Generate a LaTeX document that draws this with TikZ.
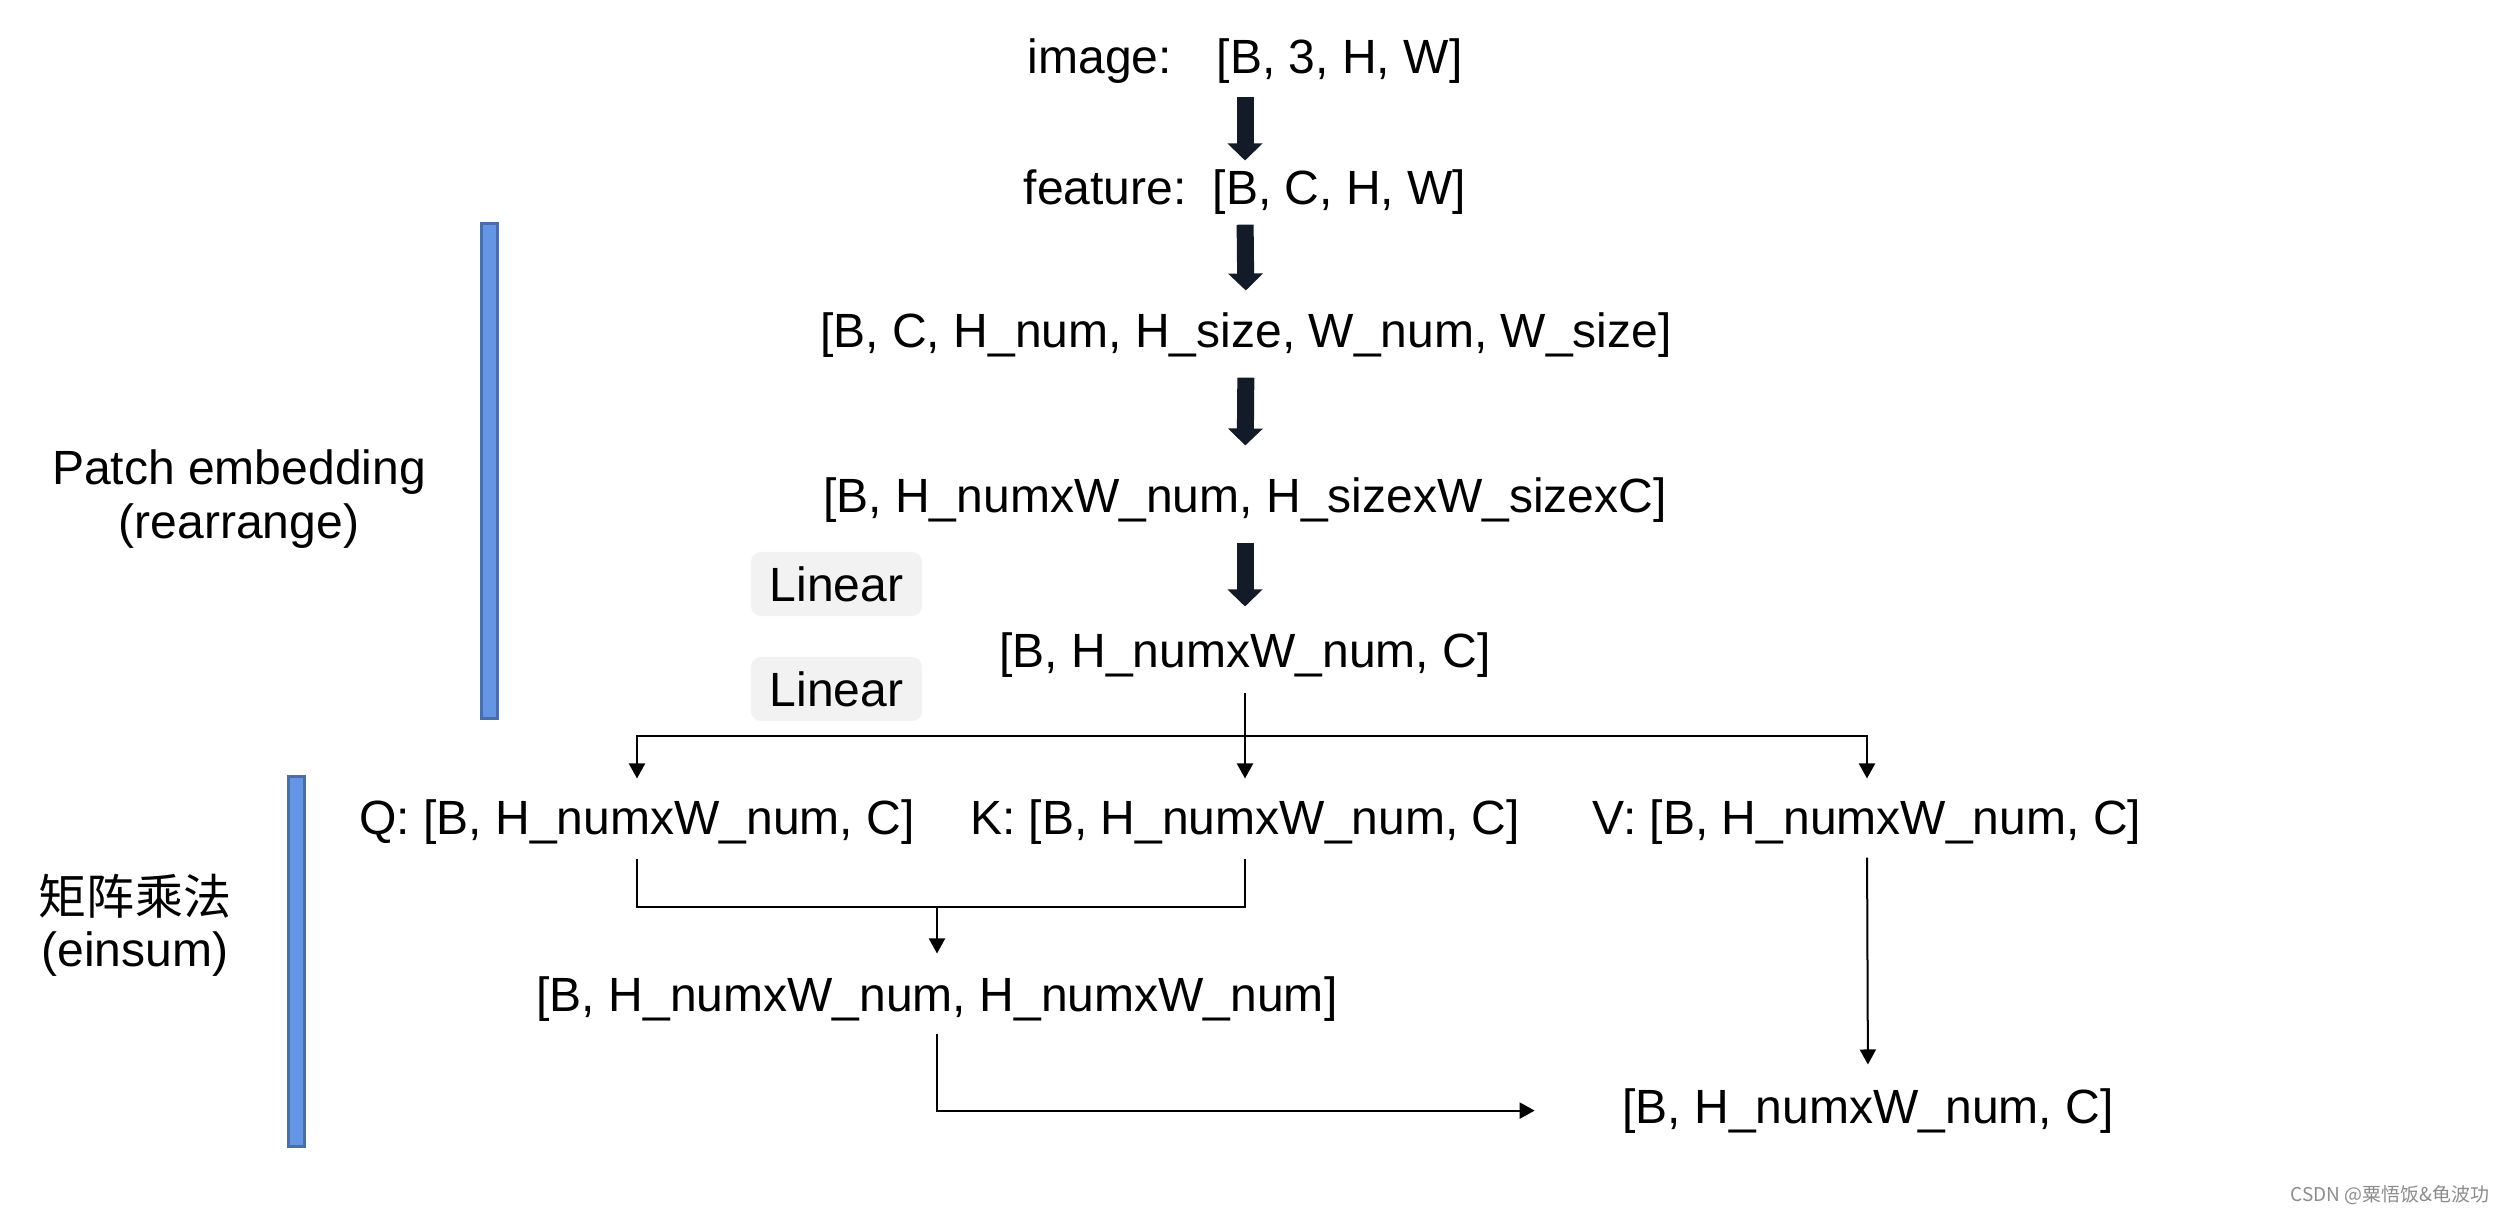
\documentclass[tikz,border=0pt]{standalone}
\usepackage{fontspec}
\setmainfont{Liberation Sans}
\newfontfamily\cjk{Noto Sans CJK SC}
\usetikzlibrary{arrows.meta}
\definecolor{arrowdark}{HTML}{131A28}
\definecolor{barfill}{HTML}{6596E6}
\definecolor{barline}{HTML}{4A6FA8}
\definecolor{lingray}{HTML}{F2F2F2}
\definecolor{wmgray}{HTML}{8C8C8C}
\begin{document}
\begin{tikzpicture}[x=0.01cm,y=-0.01cm,
  txt/.style={inner sep=0pt, anchor=base, font=\fontsize{13.66pt}{16pt}\selectfont},
  cjktxt/.style={inner sep=0pt, anchor=base, font=\cjk\fontsize{13.66pt}{16pt}\selectfont},
  bigarrow/.style={draw=arrowdark, line width=0.17cm, -{Triangle[width=0.34cm,length=0.17cm]}},
  conn/.style={draw=black, line width=0.02cm},
  connarrow/.style={conn, -{Triangle[width=0.16cm,length=0.15cm]}},
  bluebar/.style={draw=barline, fill=barfill, line width=0.03cm},
  linbox/.style={fill=lingray, rounded corners=0.1cm, minimum width=1.71cm, minimum height=0.64cm, inner sep=0pt, font=\fontsize{13.66pt}{16pt}\selectfont}
]
\fill[white] (0,0) rectangle (2506,1212);
\useasboundingbox (0,0) rectangle (2506,1212);

% blue bars
\draw[bluebar] (481.5,223.5) rectangle (497.5,718.5);
\draw[bluebar] (288.5,776.5) rectangle (304.5,1146.5);

% side labels
\node[txt] (pe1) at (239,484) {Patch embedding};
\node[txt] (pe2) at (239,538) {(rearrange)};
\node[cjktxt] (mm1) at (135,914) {矩阵乘法};
\node[txt] (mm2) at (135,966) {(einsum)};

% linear boxes
\node[linbox] (lin1) at (836.5,584) {Linear};
\node[linbox] (lin2) at (836.5,689) {Linear};

% main texts
\node[txt] (img) at (1245,73) {image:\hspace{0.45cm}[B, 3, H, W]};
\node[txt] (feat) at (1245,204) {feature:\hspace{0.26cm}[B, C, H, W]};
\node[txt] (t3) at (1246,347) {[B, C, H\_num, H\_size, W\_num, W\_size]};
\node[txt] (t4) at (1245,512) {[B, H\_numxW\_num, H\_sizexW\_sizexC]};
\node[txt] (t5) at (1245,667) {[B, H\_numxW\_num, C]};
\node[txt] (Q) at (637,834) {Q: [B, H\_numxW\_num, C]};
\node[txt] (K) at (1245,834) {K: [B, H\_numxW\_num, C]};
\node[txt] (V) at (1867,834) {V: [B, H\_numxW\_num, C]};
\node[txt] (t6) at (937,1011) {[B, H\_numxW\_num, H\_numxW\_num]};
\node[txt] (t7) at (1868,1123) {[B, H\_numxW\_num, C]};

% thick arrows
\draw[bigarrow, shorten <=0.13cm, shorten >=0.08cm] (img.south) -- (feat.north);
\draw[bigarrow, shorten <=0.10cm, shorten >=0.21cm] (feat.south) -- (t3.north);
\draw[bigarrow, shorten <=0.20cm, shorten >=0.31cm] (t3.south) -- (t4.north);
\draw[bigarrow, shorten <=0.20cm, shorten >=0.25cm] (t4.south) -- (t5.north);

% split into Q K V
\coordinate (split) at (t5.south |- 0,736);
\draw[conn, shorten <=0.15cm] (t5.south) -- (split);
\draw[connarrow, shorten >=0.20cm] (split) -- (K.north);
\draw[connarrow, shorten >=0.20cm] (split) -| (Q.north);
\draw[connarrow, shorten >=0.20cm] (split) -| (V.north);

% Q K merge
\coordinate (merge) at (t6.north |- 0,907);
\draw[conn, shorten <=0.14cm, shorten >=0.14cm] (Q.south) |- (merge) -| (K.south);
\draw[connarrow, shorten >=0.22cm] (merge) -- (t6.north);

% to output
\draw[connarrow, shorten <=0.12cm, shorten >=0.87cm] (t6.south) |- (t7.west);
\draw[connarrow, shorten <=0.13cm, shorten >=0.23cm] (V.south) -- (t7.north);

% watermark
\node[inner sep=0pt, anchor=base east, text=wmgray, font=\cjk\fontsize{5.4pt}{6pt}\selectfont] (wm) at (2490,1201) {CSDN @粟悟饭\&龟波功};
\end{tikzpicture}
\end{document}
